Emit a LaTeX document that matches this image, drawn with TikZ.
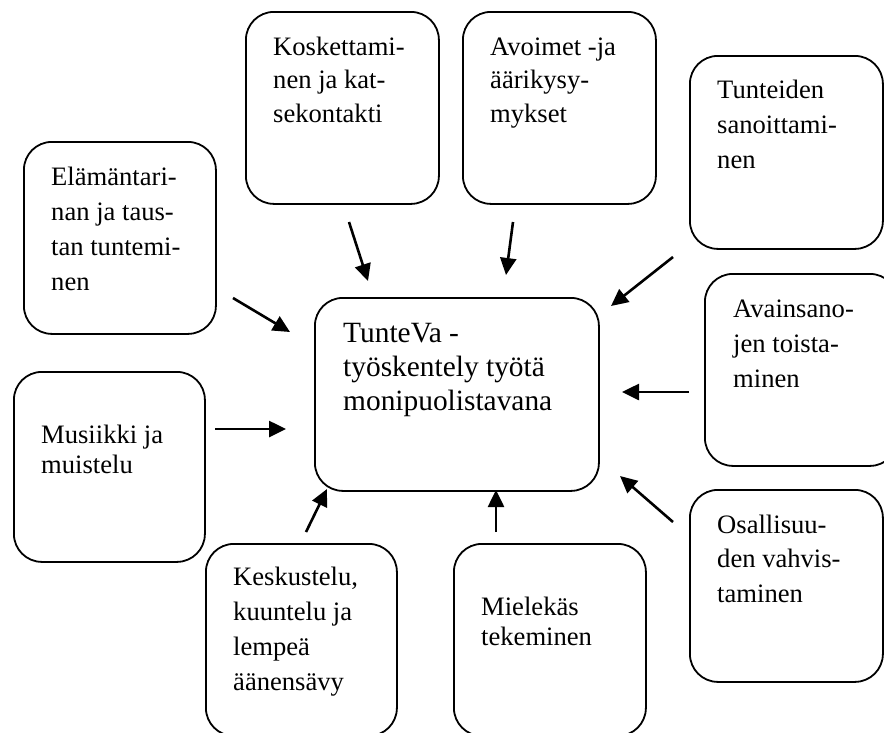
\documentclass[tikz,border=0pt]{standalone}
\usepackage{fontspec}
\setmainfont{Liberation Serif}
\usetikzlibrary{arrows.meta,calc}
\tikzset{
  card/.style={draw, line width=1.8pt, rounded corners=28pt, anchor=north west,
    inner sep=0pt, minimum width=192pt, minimum height=192pt},
  cardtext/.style={anchor=north west, inner sep=0pt, align=left,
    font=\fontsize{26.6}{35}\selectfont},
  link/.style={line width=2.6pt, -{Triangle[length=17pt,width=16pt]}},
}
\newcommand\firstline{\rule{0pt}{20pt}}
\begin{document}
\begin{tikzpicture}[x=1pt,y=-1pt]
\useasboundingbox (0,0) rectangle (884,732);
\clip (0,0) rectangle (884,732);

% central box
\node[card, minimum width=284pt, minimum height=193pt] (core) at (314,297) {};
\node[cardtext, font=\fontsize{29.4}{34}\selectfont] (coreT) at ($(core.north west)+(29,23)$)
  {\rule{0pt}{22pt}TunteVa -\\työskentely työtä\\monipuolistavana};

% surrounding boxes
\node[card] (elam) at (23,141) {};
\node[cardtext] (elamT) at ($(elam.north west)+(28,24)$)
  {\firstline Elämäntari-\\nan ja taus-\\tan tuntemi-\\nen};

\node[card, minimum width=193pt] (kosk) at (245,11) {};
\node[cardtext, font=\fontsize{26.6}{33.5}\selectfont] (koskT) at ($(kosk.north west)+(28,24)$)
  {\firstline Koskettami-\\nen ja kat-\\sekontakti};

\node[card, minimum width=193pt] (avoi) at (462,11) {};
\node[cardtext, font=\fontsize{26.6}{33.5}\selectfont] (avoiT) at ($(avoi.north west)+(28,24)$)
  {\firstline Avoimet -ja\\äärikysy-\\mykset};

\node[card, minimum width=193pt, minimum height=193pt] (tunt) at (689,55) {};
\node[cardtext] (tuntT) at ($(tunt.north west)+(28,23)$)
  {\firstline Tunteiden\\sanoittami-\\nen};

\node[card, minimum width=193pt] (avai) at (704,273) {};
\node[cardtext] (avaiT) at ($(avai.north west)+(29,24)$)
  {\firstline Avainsano-\\jen toista-\\minen};

\node[card, minimum width=191pt, minimum height=190pt] (musi) at (13,371) {};
\node[cardtext, font=\fontsize{26.6}{30}\selectfont] (musiT) at ($(musi.north west)+(28,52)$)
  {\firstline Musiikki ja\\muistelu};

\node[card, minimum width=191pt] (kesk) at (205,543) {};
\node[cardtext] (keskT) at ($(kesk.north west)+(28,22)$)
  {\firstline Keskustelu,\\kuuntelu ja\\lempeä\\äänensävy};

\node[card] (miel) at (453,543) {};
\node[cardtext, font=\fontsize{26.6}{30}\selectfont] (mielT) at ($(miel.north west)+(28,52)$)
  {\firstline Mielekäs\\tekeminen};

\node[card, minimum width=193pt] (osal) at (689,489) {};
\node[cardtext, font=\fontsize{26.6}{34.5}\selectfont] (osalT) at ($(osal.north west)+(28,24)$)
  {\firstline Osallisuu-\\den vahvis-\\taminen};

% arrow ends
\coordinate (elamA) at (233,298); \coordinate (elamB) at (290,332);
\coordinate (koskA) at (349,222); \coordinate (koskB) at (368,281);
\coordinate (avoiA) at (513,222); \coordinate (avoiB) at (506,275);
\coordinate (tuntA) at (673,257); \coordinate (tuntB) at (611,306);
\coordinate (avaiA) at (689,392); \coordinate (avaiB) at (622,392);
\coordinate (musiA) at (215,429); \coordinate (musiB) at (286,429);
\coordinate (keskA) at (306,532); \coordinate (keskB) at (327,489);
\coordinate (mielA) at (496,532); \coordinate (mielB) at (496,490);
\coordinate (osalA) at (673,522); \coordinate (osalB) at (620,476);

\foreach \n in {elam,kosk,avoi,tunt,avai,musi,kesk,miel,osal}
  \draw[link] (\n A) -- (\n B);
\end{tikzpicture}
\end{document}
